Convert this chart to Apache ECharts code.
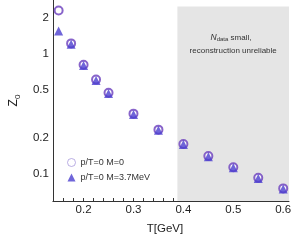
<!DOCTYPE html>
<html>
<head>
<meta charset="utf-8">
<script src="https://cdn.jsdelivr.net/npm/echarts@6/dist/echarts.min.js"></script>
<style>
html,body{margin:0;padding:0;background:#fff;}
#c{width:300px;height:240px;}
</style>
</head>
<body>
<div id="c"></div>
<script>
var temperatures = [0.15, 0.175, 0.2, 0.225, 0.25, 0.3, 0.35, 0.4, 0.45, 0.5, 0.55, 0.6];
var z0MassZero = [2.29, 1.22, 0.81, 0.61, 0.475, 0.318, 0.234, 0.178, 0.141, 0.114, 0.093, 0.076];
var z0Mass37 = [1.55, 1.2, 0.8, 0.6, 0.468, 0.313, 0.231, 0.176, 0.139, 0.113, 0.092, 0.075];
var xTickLabels = [0.2, 0.3, 0.4, 0.5, 0.6];
var xMinorTicks = [0.14, 0.16, 0.18, 0.2, 0.22, 0.24, 0.26, 0.28, 0.3, 0.32, 0.34, 0.36, 0.38, 0.4, 0.42, 0.44, 0.46, 0.48, 0.5, 0.52, 0.54, 0.56, 0.58, 0.6];
var yTickLabels = [0.1, 0.2, 0.5, 1, 2];
var seriesNames = ['p/T=0 M=0', 'p/T=0 M=3.7MeV'];
var unreliableFrom = 0.388;
var unreliableTop = 2.47;

function lg(v){ return Math.log10(v); }
function pairs(xs, ys){ return xs.map(function(x,i){ return [x, lg(ys[i])]; }); }

var chart = echarts.init(document.getElementById('c'), null, {renderer:'canvas'});
var font = 'Liberation Sans, Arial, Helvetica, sans-serif';
chart.setOption({
  animation:false,
  backgroundColor:'#fff',
  textStyle:{fontFamily:font},
  grid:{left:43, top:0, width:246, height:209, containLabel:false},
  xAxis:{
    type:'value', min:0.1385, max:0.6116,
    name:'T[GeV]', nameLocation:'middle', nameGap:22,
    nameTextStyle:{fontSize:11.5, color:'#222', fontFamily:font, padding:[0,12,0,0]},
    axisLine:{onZero:false, lineStyle:{color:'#333', width:1}},
    axisTick:{show:true, inside:true, length:3, customValues:xMinorTicks, lineStyle:{color:'#333'}},
    axisLabel:{customValues:xTickLabels, fontSize:11.5, color:'#222', margin:3, fontFamily:font,
      formatter:function(v){ return String(Number(v.toFixed(2))); }},
    splitLine:{show:false}
  },
  yAxis:{
    type:'value', min:lg(0.0597), max:lg(2.8),
    name:'{z|Z}{s|0}', nameLocation:'middle', nameGap:27, nameRotate:90,
    nameTextStyle:{rich:{
      z:{fontSize:12, color:'#222', fontFamily:font, lineHeight:14, verticalAlign:'top'},
      s:{fontSize:8, color:'#222', fontFamily:font, lineHeight:14, verticalAlign:'bottom', padding:[6,0,0,0]}
    }},
    axisLine:{show:true, onZero:false, lineStyle:{color:'#333', width:1}},
    axisTick:{show:false},
    axisLabel:{customValues:yTickLabels.map(lg), fontSize:11.5, color:'#222', margin:4, fontFamily:font,
      formatter:function(v){ return String(Number(Math.pow(10,v).toPrecision(2))); }},
    splitLine:{show:false}
  },
  legend:{
    orient:'vertical', left:62, top:153, itemWidth:8, itemHeight:8, itemGap:6,
    textStyle:{fontSize:9, color:'#333', fontFamily:font},
    data:[
      {name:seriesNames[0], icon:'circle', itemStyle:{color:'#fff', borderColor:'#a898dc', borderWidth:1}},
      {name:seriesNames[1], icon:'triangle'}
    ]
  },
  graphic:[{
    type:'text', x:231, y:33, z:10,
    style:{
      rich:{
        n:{fontSize:8.5, fontStyle:'italic', fill:'#333', fontFamily:font},
        d:{fontSize:6, fill:'#333', fontFamily:font, padding:[3,0,0,0]},
        t:{fontSize:8, fill:'#333', fontFamily:font}
      },
      text:'{n|N}{d|data}{t| small,}',
      align:'center'
    }
  }],
  series:[
    {
      name:seriesNames[0], type:'scatter', symbol:'emptyCircle', symbolSize:8,
      itemStyle:{color:'#6a3dbd', borderColor:'#6a3dbd', borderWidth:1.3},
      data:pairs(temperatures, z0MassZero), z:3,
      markArea:{
        silent:true,
        itemStyle:{color:'#e5e5e5'},
        label:{show:true, position:'insideTop', distance:40, fontSize:8, color:'#333', fontFamily:font,
          formatter:'reconstruction unreliable'},
        data:[[{xAxis:unreliableFrom, yAxis:lg(unreliableTop)}, {xAxis:0.6116, yAxis:lg(0.0597)}]]
      }
    },
    {
      name:seriesNames[1], type:'scatter', symbol:'triangle', symbolSize:9,
      itemStyle:{color:'#4b3fd0'},
      data:pairs(temperatures, z0Mass37), z:4
    }
  ]
});
</script>
</body>
</html>
